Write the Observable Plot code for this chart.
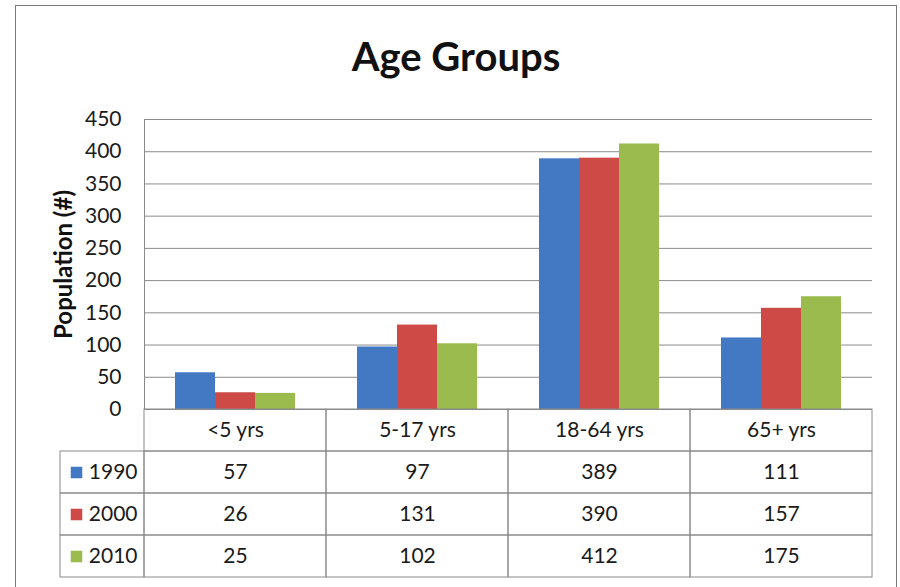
<!DOCTYPE html>
<html>
<head>
<meta charset="utf-8">
<script src="https://cdn.jsdelivr.net/npm/d3@7"></script>
<script src="https://cdn.jsdelivr.net/npm/@observablehq/plot@0.6"></script>
<style>
  html, body { margin: 0; padding: 0; background: #fff; }
  #wrap { position: relative; width: 900px; height: 587px; overflow: hidden; background: #fff; font-family: Lato, "Noto Sans", sans-serif; }
  #wrap svg { position: absolute; left: 0; }
  #border { position: absolute; left: 15px; top: 5px; width: 882px; height: 640px; border: 1px solid #7a7a7a; box-sizing: border-box; pointer-events: none; }
  #title { position: absolute; left: 15px; width: 882px; top: 36px; line-height: 40px; text-align: center; font-size: 40px; font-weight: bold; color: #111; }
</style>
</head>
<body>
<div id="wrap">
  <div id="border"></div>
  <div id="title">Age Groups</div>
</div>
<script>
// ---- data ----
const categories = ["<5 yrs", "5-17 yrs", "18-64 yrs", "65+ yrs"];
const years = ["1990", "2000", "2010"];
const values1990 = [57, 97, 389, 111];
const values2000 = [26, 131, 390, 157];
const values2010 = [25, 102, 412, 175];
const yTicks = [0, 50, 100, 150, 200, 250, 300, 350, 400, 450];
const yLabel = "Population (#)";
const seriesColors = ["#4279C2", "#CD4A47", "#9BBB4F"];

const seriesValues = [values1990, values2000, values2010];
const data = categories.flatMap((c, i) =>
  years.map((y, j) => ({category: c, year: y, value: seriesValues[j][i]})));

const tableCells = categories.flatMap((c, i) => [
  {category: c, row: "header", label: c},
  ...years.map((y, j) => ({category: c, row: y, label: String(seriesValues[j][i])}))
]);

// ---- layout ----
const W = 900, mL = 144, mR = 28;
const bandW = (W - mL - mR) / categories.length;
const font = 'Lato, "Noto Sans", sans-serif';
const gridColor = "#8a8a8a";

const chart = Plot.plot({
  width: W, height: 440,
  marginTop: 119, marginBottom: 31, marginLeft: mL, marginRight: mR,
  style: {fontFamily: font, background: "transparent", color: "#1a1a1a"},
  fx: {domain: categories, padding: 0, axis: null},
  x: {domain: years, paddingInner: 0, paddingOuter: 0.75, axis: null},
  y: {domain: [0, 450]},
  color: {domain: years, range: seriesColors},
  marks: [
    Plot.gridY(yTicks, {stroke: gridColor, strokeOpacity: 1}),
    Plot.frame({anchor: "left", facetAnchor: "left", stroke: gridColor}),
    Plot.barY(data, {fx: "category", x: "year", y: "value", fill: "year", inset: 0}),
    Plot.axisY(yTicks, {tickSize: 0, tickPadding: 23, fontSize: 21, label: null}),
    Plot.text([yLabel], {frameAnchor: "left", facetAnchor: "left", rotate: -90, dx: -80,
      textAnchor: "middle", fontWeight: "bold", fontSize: 24, fill: "#111"})
  ]
});
chart.style.top = "0px";

const table = Plot.plot({
  width: W, height: 170,
  marginTop: 1, marginBottom: 1, marginLeft: mL, marginRight: mR,
  style: {fontFamily: font, background: "transparent", color: "#1a1a1a"},
  x: {domain: categories, padding: 0, axis: null},
  y: {domain: ["header", ...years], padding: 0, axis: null},
  color: {domain: years, range: seriesColors},
  marks: [
    Plot.cell(tableCells, {x: "category", y: "row", stroke: gridColor, fill: "none"}),
    Plot.cell(years, {x: () => categories[0], y: d => d, stroke: gridColor, fill: "none",
      insetLeft: -84, insetRight: bandW}),
    Plot.text(tableCells, {x: "category", y: "row", text: "label", fontSize: 21, fill: "#1a1a1a"}),
    Plot.dot(years, {y: d => d, frameAnchor: "left", dx: -68, symbol: "square", r: 6.5, fill: d => d}),
    Plot.text(years, {y: d => d, text: d => d, frameAnchor: "left", textAnchor: "end", dx: -7,
      fontSize: 21, fill: "#1a1a1a"})
  ]
});
table.style.top = "408px";

const wrap = document.getElementById("wrap");
wrap.insertBefore(table, wrap.firstChild);
wrap.insertBefore(chart, wrap.firstChild);
</script>
</body>
</html>
